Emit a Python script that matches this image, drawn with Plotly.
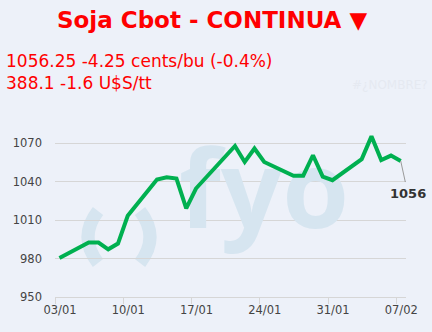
import plotly.graph_objects as go
import pandas as pd

# ---- data ----
dates = ["2025-01-03", "2025-01-06", "2025-01-07", "2025-01-08", "2025-01-09",
         "2025-01-10", "2025-01-13", "2025-01-14", "2025-01-15", "2025-01-16",
         "2025-01-17", "2025-01-21", "2025-01-22", "2025-01-23", "2025-01-24",
         "2025-01-27", "2025-01-28", "2025-01-29", "2025-01-30", "2025-01-31",
         "2025-02-03", "2025-02-04", "2025-02-05", "2025-02-06", "2025-02-07"]
prices = [980.5, 992.5, 992.5, 987.25, 991.75,
          1013.5, 1041.75, 1043.5, 1042.5, 1019.25,
          1034.75, 1068.0, 1055.5, 1066.0, 1055.5,
          1044.75, 1044.75, 1060.75, 1044.0, 1041.25,
          1057.75, 1075.5, 1057.0, 1060.5, 1056.25]
y_ticks = [950, 980, 1010, 1040, 1070]
title_text = "Soja Cbot - CONTINUA ▼"
line1_text = "1056.25 -4.25 cents/bu (-0.4%)"
line2_text = "388.1 -1.6 U$S/tt"
err_text = "#¿NOMBRE?"
watermark = "fyo"

W, H = 432, 332
ML, MR, MT, MB = 55, 26, 105, 35
PW, PH = W - ML - MR, H - MT - MB


def xp(px):
    return (px - ML) / PW


def yp(py):
    return (H - MB - py) / PH


x_vals = pd.to_datetime(dates) + pd.Timedelta(hours=11)

BG = "#edf1f9"
WM = "#d6e5f0"
RED = "#ff0000"
GRID = "#d6d6d6"

fig = go.Figure()

# watermark on a hidden base subplot (drawn beneath the data)
fig.add_trace(go.Scatter(
    x=[xp(264)], y=[yp(201)], mode="text", text=[watermark],
    textfont=dict(family="Open Sans", size=108, color=WM, weight=700),
    textposition="middle center", hoverinfo="skip", showlegend=False,
    xaxis="x", yaxis="y"))

fig.add_trace(go.Scatter(
    x=x_vals, y=prices, mode="lines",
    line=dict(color="#00b050", width=4, shape="linear"),
    hoverinfo="skip", showlegend=False, xaxis="x2", yaxis="y2"))

# bracket arcs of the logo watermark
for (x0, xc) in [(98, 78), (140, 160)]:
    fig.add_shape(type="path", xref="paper", yref="paper", layer="below",
                  path=f"M {xp(x0)},{yp(211)} Q {xp(xc)},{yp(237)} {xp(x0)},{yp(263)}",
                  line=dict(color=WM, width=13))

annotations = [
    dict(text=f"<b>{title_text}</b>", xref="paper", yref="paper",
         x=xp(212), y=yp(20), xanchor="center", yanchor="middle", showarrow=False,
         font=dict(family="DejaVu Sans", size=23, color=RED)),
    dict(text=line1_text, xref="paper", yref="paper",
         x=xp(4), y=yp(61), xanchor="left", yanchor="middle", showarrow=False,
         font=dict(family="DejaVu Sans", size=17, color=RED)),
    dict(text=line2_text, xref="paper", yref="paper",
         x=xp(4), y=yp(82.5), xanchor="left", yanchor="middle", showarrow=False,
         font=dict(family="DejaVu Sans", size=17, color=RED)),
    dict(text=err_text, xref="paper", yref="paper",
         x=xp(389.5), y=yp(85), xanchor="center", yanchor="middle", showarrow=False,
         font=dict(family="DejaVu Sans", size=12, color="#e5e9f1")),
    dict(text=f"<b>{prices[-1]:.0f}</b>", xref="x2", yref="y2",
         x=x_vals[-1], y=prices[-1], showarrow=True, arrowhead=0,
         arrowwidth=1, arrowcolor="#9a9a9a", ax=7, ay=32, startstandoff=2,
         font=dict(family="DejaVu Sans", size=13, color="#333333")),
]

fig.update_layout(
    width=W, height=H,
    margin=dict(l=ML, r=MR, t=MT, b=MB, pad=0),
    paper_bgcolor=BG, plot_bgcolor=BG,
    showlegend=False,
    annotations=annotations,
    xaxis=dict(range=[0, 1], visible=False, fixedrange=True),
    yaxis=dict(range=[0, 1], visible=False, fixedrange=True),
    xaxis2=dict(
        overlaying="x", range=["2025-01-03", "2025-02-08"],
        type="date", tick0="2025-01-03", dtick=7 * 86400000, tickformat="%d/%m",
        showgrid=False, zeroline=False,
        showline=True, linecolor=GRID, linewidth=1,
        ticks="outside", ticklen=6, tickcolor=GRID,
        ticklabelstandoff=-4, ticklabelshift=5,
        tickfont=dict(family="DejaVu Sans", size=11.5, color="#444444"),
    ),
    yaxis2=dict(
        overlaying="y", range=[950, 1100], tickvals=y_ticks,
        showgrid=True, gridcolor=GRID, gridwidth=1, zeroline=False,
        showline=False, ticks="", ticklabelstandoff=12,
        tickfont=dict(family="DejaVu Sans", size=11.5, color="#444444"),
    ),
)

fig.write_html("out.html")
